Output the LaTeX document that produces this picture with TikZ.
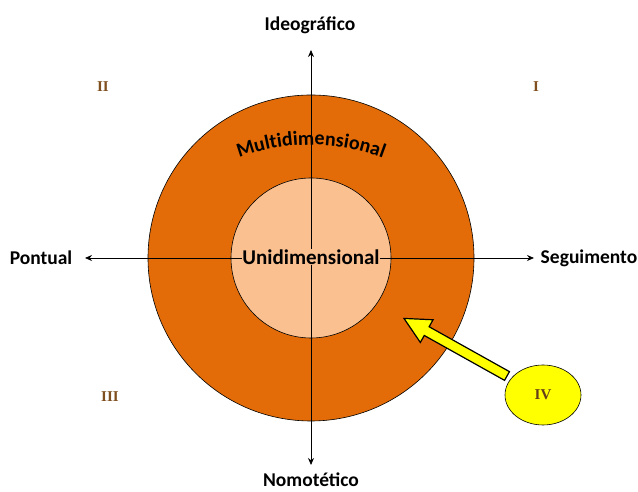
\documentclass[tikz,border=0pt]{standalone}
\usepackage{fontspec}
\setmainfont{Carlito}
\newfontfamily\romanfont{Liberation Serif}
\usetikzlibrary{decorations.text,arrows.meta,shapes.geometric}
\definecolor{orangeA}{HTML}{E36C09}
\definecolor{peachA}{HTML}{FAC090}
\definecolor{brownA}{HTML}{7F4F1F}
\definecolor{yellowA}{HTML}{FFFF00}
\tikzset{
  axis/.style={draw=black, line width=0.8pt, -{Stealth[length=7pt,width=6pt]}},
  axlabel/.style={font=\fontsize{19.5}{19.5}\selectfont\bfseries, text=black, inner sep=0pt},
  quad/.style={font=\romanfont\fontsize{15}{15}\selectfont\bfseries, text=brownA},
  ring/.style={draw=black, line width=0.6pt},
}
\begin{document}
\begin{tikzpicture}[x=1pt,y=1pt]
\useasboundingbox (0,0) rectangle (638,492);
% circles
\node[ring, circle, fill=orangeA, minimum size=326pt, inner sep=0pt] (outer) at (311,234) {};
\node[ring, circle, fill=peachA, minimum size=160pt, inner sep=0pt] (inner) at (311,234) {};
% axes
\coordinate (c) at (311,234);
\coordinate (top) at (311,442);
\coordinate (bot) at (311,27);
\coordinate (lft) at (85,234);
\coordinate (rgt) at (534,234);
\draw[axis] (c) -- (top);
\draw[axis] (c) -- (bot);
\draw[axis] (c) -- (lft);
\draw[axis] (c) -- (rgt);
% inner label
\node[font=\fontsize{21}{21}\selectfont\bfseries, fill=peachA, inner sep=0.5pt] (uni) at (311,235) {Unidimensional};
% curved label
\path[postaction={decorate,decoration={text along path, text align=center,
  text={|\fontsize{20}{20}\selectfont\bfseries|Multidimensional}}}]
  (311,142) ++(118:205) arc[start angle=118, end angle=62, radius=205];
% axis labels
\node[axlabel] (ideo) at (310,467) {Ideográfico};
\node[axlabel] (nomo) at (311,12) {Nomotético};
\node[axlabel] (pont) at (41,234) {Pontual};
\node[axlabel] (segu) at (589,234) {Seguimento};
% quadrant labels
\node[quad] (q1) at (536,405) {I};
\node[quad] (q2) at (103,405) {II};
\node[quad] (q3) at (110,95) {III};
% IV ellipse
\node[draw=black, line width=0.6pt, fill=yellowA, ellipse, minimum width=76pt, minimum height=60pt, inner sep=0pt,
  font=\romanfont\fontsize{15}{15}\selectfont\bfseries, text=brownA!80!black] (q4) at (543,97) {IV};
% block arrow
\begin{scope}[shift={(507,116)}, rotate=150.8]
\draw[fill=yellowA, draw=black, line width=1.2pt, line join=miter]
  (0,-5) -- (92,-5) -- (92,-13) -- (118,0) -- (92,13) -- (92,5) -- (0,5) -- cycle;
\end{scope}
\end{tikzpicture}
\end{document}
